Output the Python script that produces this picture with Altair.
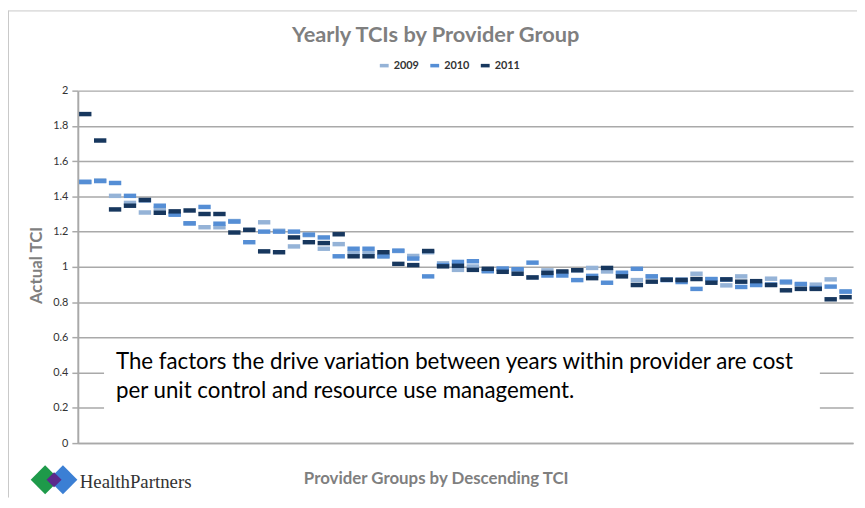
import altair as alt
import pandas as pd

groups = list(range(1, 53))
years = ["2009", "2010", "2011"]
year_colors = ["#95B3D7", "#558ED5", "#17375E"]

tci_2009 = [1.480, 1.490, 1.403, 1.363, 1.309, 1.330, 1.300, 1.247, 1.225, 1.225,
            1.260, 1.210, 1.253, 1.205, 1.116, 1.180, 1.103, 1.129, 1.080, 1.080,
            1.060, 1.090, 1.062, 1.083, 1.020, 0.983, 1.002, 0.976, 0.990, 0.985,
            0.940, 0.980, 0.970, 0.980, 0.994, 0.974, 0.966, 0.925, 0.946, 0.930,
            0.930, 0.961, 0.930, 0.895, 0.946, 0.900, 0.933, 0.910, 0.900, 0.899,
            0.929, 0.860]
tci_2010 = [1.483, 1.487, 1.476, 1.403, 1.378, 1.347, 1.296, 1.247, 1.340, 1.245,
            1.257, 1.140, 1.200, 1.200, 1.200, 1.183, 1.167, 1.060, 1.103, 1.103,
            1.060, 1.092, 1.047, 0.946, 1.010, 1.028, 1.032, 0.976, 0.990, 0.987,
            1.024, 0.951, 0.951, 0.925, 0.949, 0.910, 0.966, 0.989, 0.946, 0.925,
            0.914, 0.875, 0.931, 0.928, 0.886, 0.897, 0.900, 0.916, 0.903, 0.880,
            0.888, 0.860]
tci_2011 = [1.867, 1.717, 1.326, 1.347, 1.380, 1.307, 1.315, 1.320, 1.300, 1.300,
            1.195, 1.210, 1.088, 1.083, 1.167, 1.140, 1.135, 1.185, 1.060, 1.060,
            1.083, 1.017, 1.010, 1.090, 1.003, 1.006, 0.983, 0.989, 0.972, 0.961,
            0.940, 0.966, 0.974, 0.981, 0.936, 0.994, 0.946, 0.897, 0.916, 0.927,
            0.925, 0.931, 0.910, 0.929, 0.916, 0.919, 0.897, 0.867, 0.875, 0.875,
            0.816, 0.828]
y_ticks = [0, 0.2, 0.4, 0.6, 0.8, 1.0, 1.2, 1.4, 1.6, 1.8, 2.0]

title_text = "Yearly TCIs by Provider Group"
x_title = "Provider Groups by Descending TCI"
y_title = "Actual TCI"
note_lines = ["The factors the drive variation between years within provider are cost",
              "per unit control and resource use management."]
logo_text = "HealthPartners"

rows = []
for yr, vals in zip(years, [tci_2009, tci_2010, tci_2011]):
    for g, v in zip(groups, vals):
        rows.append({"group": g, "year": yr, "tci": v})
df = pd.DataFrame(rows)
one = pd.DataFrame({"a": [0]})

W, H = 783, 356
GRAY = "#7f7f7f"
GRID = "#a9a9a9"

ticks = alt.Chart(df).mark_tick(thickness=4.5, size=12.5, opacity=1).encode(
    x=alt.X("group:O", scale=alt.Scale(paddingInner=0, paddingOuter=0),
            axis=alt.Axis(labels=False, ticks=False, domainColor=GRID, domainWidth=1.5,
                          title=x_title, titleX=361.5, titleY=36, titleBaseline="middle",
                          titleAlign="center", titleFont="Lato", titleFontSize=17,
                          titleFontWeight="bold", titleColor=GRAY)),
    y=alt.Y("tci:Q", scale=alt.Scale(domain=[0, 2]),
            axis=alt.Axis(values=y_ticks, format="~g", grid=True, gridColor=GRID,
                          gridWidth=1.5, domainColor=GRID, domainWidth=2, tickColor=GRID,
                          tickSize=6, tickWidth=1.5, labelFont="Lato", labelFontSize=11,
                          labelColor="#333333", labelPadding=4, zindex=0,
                          title=y_title, titleX=-42, titleY=176, titleAngle=-90,
                          titleBaseline="middle", titleAlign="center", titleFont="Lato",
                          titleFontSize=17, titleFontWeight="bold", titleColor=GRAY)),
    color=alt.Color("year:N", scale=alt.Scale(domain=years, range=year_colors),
                    legend=alt.Legend(title=None, orient="none", direction="horizontal",
                                      legendX=304, legendY=-31,
                                      symbolType="M-1,-0.4H1V0.4H-1Z", symbolSize=80,
                                      symbolStrokeWidth=0, labelFont="Lato",
                                      labelFontSize=11, labelFontWeight="bold",
                                      labelColor="#333333", columnPadding=10,
                                      labelOffset=4)),
)

box = alt.Chart(one).mark_rect(color="white").encode(
    x=alt.value(26.5), x2=alt.value(749.5), y=alt.value(254), y2=alt.value(331))

note1 = alt.Chart(one).mark_text(align="left", baseline="middle", font="Lato",
                                 fontSize=22.5, color="#000000", text=note_lines[0]).encode(
    x=alt.value(38.5), y=alt.value(274))
note2 = alt.Chart(one).mark_text(align="left", baseline="middle", font="Lato",
                                 fontSize=22.5, color="#000000", text=note_lines[1]).encode(
    x=alt.value(38.5), y=alt.value(303))

title = alt.Chart(one).mark_text(align="center", baseline="middle", font="Lato",
                                 fontSize=22, fontWeight="bold", color=GRAY,
                                 text=title_text).encode(
    x=alt.value(361.5), y=alt.value(-56))

frame_top = alt.Chart(one).mark_rule(color="#c8c8c8", strokeWidth=1).encode(
    x=alt.value(-70), x2=alt.value(W + 4), y=alt.value(-80.5))
frame_left = alt.Chart(one).mark_rule(color="#c8c8c8", strokeWidth=1).encode(
    x=alt.value(-70), y=alt.value(-81), y2=alt.value(H + 55))

d_blue = alt.Chart(one).mark_point(shape="diamond", filled=True, size=850,
                                   color="#3b7fd4", opacity=1).encode(
    x=alt.value(-15), y=alt.value(393))
d_green = alt.Chart(one).mark_point(shape="diamond", filled=True, size=850,
                                    color="#1e9a4a", opacity=1).encode(
    x=alt.value(-33), y=alt.value(393))
d_purple = alt.Chart(one).mark_point(shape="diamond", filled=True, size=230,
                                     color="#5b2a8c", opacity=1).encode(
    x=alt.value(-24), y=alt.value(393))
logo = alt.Chart(one).mark_text(align="left", baseline="middle", font="Liberation Serif",
                                fontSize=19, color="#333333", text=logo_text).encode(
    x=alt.value(2), y=alt.value(395))

chart = alt.layer(ticks, box, note1, note2, title, frame_top, frame_left,
                  d_blue, d_green, d_purple, logo).properties(
    width=W, height=H,
    autosize=alt.AutoSizeParams(type="none"),
    padding={"left": 70.5, "top": 81, "right": 4, "bottom": 55},
).configure_view(stroke=None)

chart.save("out.html", embed_options={"renderer": "svg", "actions": False})
